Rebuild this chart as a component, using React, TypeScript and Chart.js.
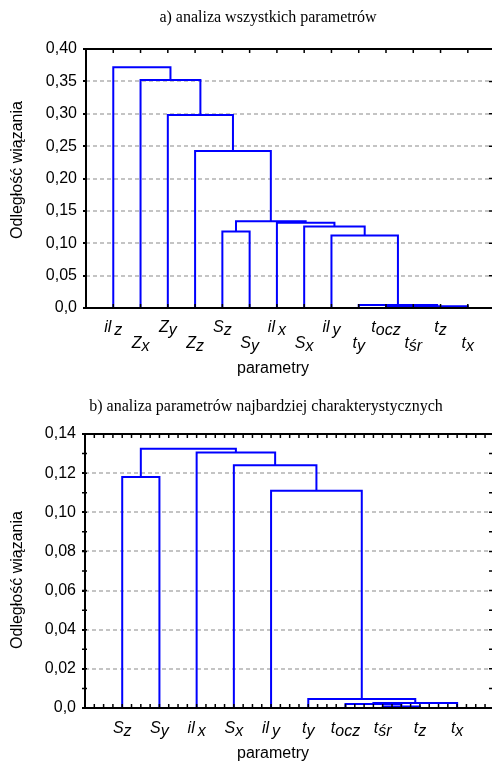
import React, { useEffect, useRef } from 'react';
import { Chart, registerables } from 'chart.js';

Chart.register(...registerables);

// ---------- Panel a: all parameters ----------
const titleA = 'a) analiza wszystkich parametrów';
const leafBaseA = ['il', 'Z', 'Z', 'Z', 'S', 'S', 'il', 'S', 'il', 't', 't', 't', 't', 't'];
const leafSubA = ['z', 'x', 'y', 'z', 'z', 'y', 'x', 'x', 'y', 'y', 'ocz', 'śr', 'z', 'x'];
// merge k joins mergeLeft[k] and mergeRight[k]; index < leaves -> leaf, else merge (index - leaves)
const mergeLeftA = [11, 10, 15, 9, 8, 4, 7, 6, 19, 3, 2, 1, 0];
const mergeRightA = [12, 14, 13, 16, 17, 5, 18, 20, 21, 22, 23, 24, 25];
const mergeHeightA = [0.0008, 0.0018, 0.0028, 0.0045, 0.112, 0.118, 0.126, 0.1315, 0.134, 0.2425, 0.298, 0.352, 0.372];
const yTicksA = [0, 0.05, 0.1, 0.15, 0.2, 0.25, 0.3, 0.35, 0.4];

// ---------- Panel b: most characteristic parameters ----------
const titleB = 'b) analiza parametrów najbardziej charakterystycznych';
const leafBaseB = ['S', 'S', 'il', 'S', 'il', 't', 't', 't', 't', 't'];
const leafSubB = ['z', 'y', 'x', 'x', 'y', 'y', 'ocz', 'śr', 'z', 'x'];
const mergeLeftB = [7, 6, 11, 5, 4, 0, 3, 2, 15];
const mergeRightB = [8, 10, 9, 12, 13, 1, 14, 16, 17];
const mergeHeightB = [0.0008, 0.002, 0.0026, 0.0046, 0.111, 0.118, 0.124, 0.1305, 0.1325];
const yTicksB = [0, 0.02, 0.04, 0.06, 0.08, 0.1, 0.12, 0.14];

const yAxisTitle = 'Odległość wiązania';
const xAxisTitle = 'parametry';

const SANS = '"Liberation Sans", Arial, sans-serif';
const SERIF = '"Liberation Serif", "Times New Roman", serif';

type Spec = {
  title: string;
  leafBase: string[];
  leafSub: string[];
  mergeLeft: number[];
  mergeRight: number[];
  mergeHeight: number[];
  yTicks: number[];
  height: number;
  padTop: number;
  padBottom: number;
  axisWidth: number;
  xMax: number;
  xTickStep: number;
  xTickStart: number;
  yMinorStep: number;
  leftMinor: boolean;
  titleX: number;
  titleBaseline: number;
  labelBaselines: number[];
  xTitleX: number;
  xTitleBaseline: number;
  yTitleX: number;
  yTitleCenter: number;
};

function buildSegments(n: number, left: number[], right: number[], heights: number[]) {
  const pos: number[] = [];
  const segs: { x: number; y: number }[][] = [];
  const cx = (c: number) => (c < n ? c + 1 : pos[c - n]);
  const ch = (c: number) => (c < n ? 0 : heights[c - n]);
  for (let k = 0; k < heights.length; k++) {
    const xl = cx(left[k]);
    const xr = cx(right[k]);
    const h = heights[k];
    pos.push((xl + xr) / 2);
    segs.push([
      { x: xl, y: ch(left[k]) },
      { x: xl, y: h },
      { x: xr, y: h },
      { x: xr, y: ch(right[k]) },
    ]);
  }
  return segs;
}

function fmt(v: number) {
  if (Math.abs(v) < 1e-9) return '0,0';
  return v.toFixed(2).replace('.', ',');
}

function makeOverlay(spec: Spec) {
  return {
    id: 'overlay',
    afterDraw(chart: any) {
      const ctx: CanvasRenderingContext2D = chart.ctx;
      const { left, right, top, bottom } = chart.chartArea;
      const edge = chart.width;
      const xs = chart.scales.x;
      const ys = chart.scales.y;
      ctx.save();
      ctx.strokeStyle = '#000';
      ctx.lineWidth = 1.5;
      ctx.beginPath();
      const nx = Math.floor((spec.xMax - spec.xTickStart) / spec.xTickStep + 1e-6);
      for (let i = 0; i <= nx; i++) {
        const v = spec.xTickStart + i * spec.xTickStep;
        if (v >= spec.xMax) break;
        const px = xs.getPixelForValue(v);
        ctx.moveTo(px, top);
        ctx.lineTo(px, top + 4);
        ctx.moveTo(px, bottom);
        ctx.lineTo(px, bottom - 4);
      }
      const yMax = spec.yTicks[spec.yTicks.length - 1];
      const ny = Math.round(yMax / spec.yMinorStep);
      for (let j = 1; j < ny; j++) {
        const py = ys.getPixelForValue(j * spec.yMinorStep);
        ctx.moveTo(edge, py);
        ctx.lineTo(edge - 3, py);
        if (spec.leftMinor) {
          ctx.moveTo(left - 3, py);
          ctx.lineTo(left + 2, py);
        }
      }
      ctx.stroke();
      // frame: left, top, bottom (right edge lies outside the picture)
      ctx.lineWidth = 2;
      ctx.beginPath();
      ctx.moveTo(edge + 2, top);
      ctx.lineTo(left, top);
      ctx.lineTo(left, bottom);
      ctx.lineTo(edge + 2, bottom);
      ctx.stroke();

      ctx.fillStyle = '#000';
      // panel title
      ctx.font = `16px ${SERIF}`;
      ctx.textAlign = 'center';
      ctx.textBaseline = 'alphabetic';
      ctx.fillText(spec.title, spec.titleX, spec.titleBaseline);

      // leaf labels with subscripts
      const baseFont = `italic 16px ${SANS}`;
      const subFont = `italic 16px ${SANS}`;
      ctx.textAlign = 'left';
      spec.leafBase.forEach((b, i) => {
        const s = spec.leafSub[i];
        ctx.font = baseFont;
        const wb = ctx.measureText(b).width;
        ctx.font = subFont;
        const ws = ctx.measureText(s).width;
        const gap = b === 'il' ? 3 : 0;
        const cxp = xs.getPixelForValue(i + 1);
        const x0 = cxp - (wb + gap + ws) / 2;
        const base = spec.labelBaselines[i % spec.labelBaselines.length];
        ctx.font = baseFont;
        ctx.fillText(b, x0, base);
        ctx.font = subFont;
        ctx.fillText(s, x0 + wb + gap, base + 3);
      });

      // axis titles
      ctx.font = `16px ${SANS}`;
      ctx.textAlign = 'center';
      ctx.fillText(xAxisTitle, spec.xTitleX, spec.xTitleBaseline);
      ctx.translate(spec.yTitleX, spec.yTitleCenter);
      ctx.rotate(-Math.PI / 2);
      ctx.textBaseline = 'middle';
      ctx.fillText(yAxisTitle, 0, 0);
      ctx.restore();
    },
  };
}

function Panel({ spec, top }: { spec: Spec; top: number }) {
  const ref = useRef<HTMLCanvasElement>(null);
  useEffect(() => {
    const segs = buildSegments(spec.leafBase.length, spec.mergeLeft, spec.mergeRight, spec.mergeHeight);
    const yMax = spec.yTicks[spec.yTicks.length - 1];
    const chart = new Chart(ref.current as HTMLCanvasElement, {
      type: 'line',
      data: {
        datasets: segs.map((pts) => ({
          data: pts,
          borderColor: '#0000ff',
          borderWidth: 2,
          pointRadius: 0,
          fill: false,
          tension: 0,
        })),
      },
      options: {
        animation: false,
        responsive: false,
        devicePixelRatio: 1,
        layout: { padding: { left: 0, right: 1, top: spec.padTop, bottom: spec.padBottom } },
        plugins: { legend: { display: false }, tooltip: { enabled: false }, title: { display: false } },
        scales: {
          x: { type: 'linear', min: 0, max: spec.xMax, display: false },
          y: {
            type: 'linear',
            min: 0,
            max: yMax,
            afterFit: (scale: any) => {
              scale.width = spec.axisWidth;
            },
            afterBuildTicks: (scale: any) => {
              scale.ticks = spec.yTicks.map((v) => ({ value: v }));
            },
            ticks: {
              color: '#000',
              padding: 6,
              font: { family: SANS, size: 16 },
              callback: (v: any) => fmt(Number(v)),
            },
            grid: {
              color: '#c4c4c4',
              lineWidth: 2,
              drawTicks: true,
              tickLength: 3,
              tickColor: '#000',
              tickWidth: 2,
              tickBorderDash: [],
            },
            border: { display: false, dash: [4, 3] },
          },
        },
      } as any,
      plugins: [makeOverlay(spec)],
    });
    return () => chart.destroy();
  }, []);
  return (
    <canvas
      ref={ref}
      width={492}
      height={spec.height}
      style={{ position: 'absolute', left: 0, top, width: 492, height: spec.height }}
    />
  );
}

const specA: Spec = {
  title: titleA,
  leafBase: leafBaseA,
  leafSub: leafSubA,
  mergeLeft: mergeLeftA,
  mergeRight: mergeRightA,
  mergeHeight: mergeHeightA,
  yTicks: yTicksA,
  height: 380,
  padTop: 49,
  padBottom: 72,
  axisWidth: 86,
  xMax: 14.85,
  xTickStep: 1,
  xTickStart: 1,
  yMinorStep: 0.05,
  leftMinor: false,
  titleX: 268,
  titleBaseline: 22,
  labelBaselines: [332, 348],
  xTitleX: 273,
  xTitleBaseline: 373,
  yTitleX: 18,
  yTitleCenter: 170,
};

const specB: Spec = {
  title: titleB,
  leafBase: leafBaseB,
  leafSub: leafSubB,
  mergeLeft: mergeLeftB,
  mergeRight: mergeRightB,
  mergeHeight: mergeHeightB,
  yTicks: yTicksB,
  height: 383,
  padTop: 54,
  padBottom: 55,
  axisWidth: 85,
  xMax: 10.91,
  xTickStep: 0.25,
  xTickStart: 0.25,
  yMinorStep: 0.01,
  leftMinor: true,
  titleX: 266,
  titleBaseline: 31,
  labelBaselines: [353],
  xTitleX: 273,
  xTitleBaseline: 378,
  yTitleX: 18,
  yTitleCenter: 200,
};

export default function App() {
  return (
    <div style={{ position: 'absolute', left: 0, top: 0, width: 492, height: 763, background: '#fff' }}>
      <Panel spec={specA} top={0} />
      <Panel spec={specB} top={380} />
    </div>
  );
}
